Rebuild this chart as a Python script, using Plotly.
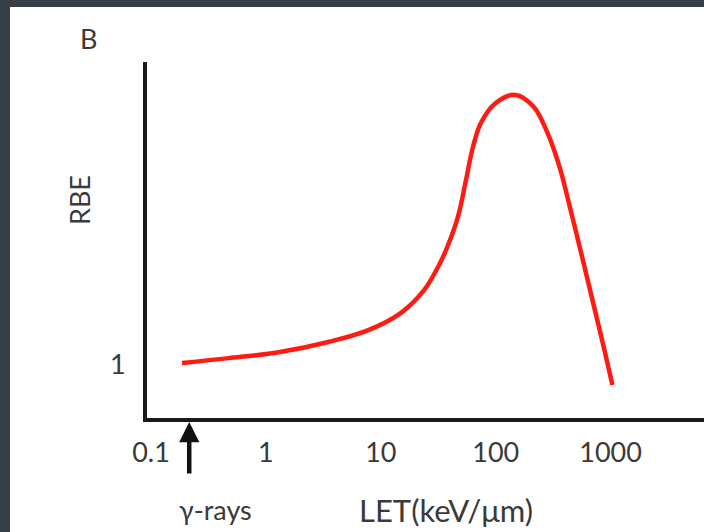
import plotly.graph_objects as go
import math

# Data (LET in keV/um, RBE relative units)
let_values = [0.186, 0.474, 1.29, 3.50, 7.8, 15.0, 23.8, 31.5, 36.9, 46.9, 55.1,
              63.3, 74.3, 100, 149, 214, 283, 360, 448, 547, 695, 884, 1037]
rbe_values = [1.02, 1.11, 1.22, 1.41, 1.63, 1.95, 2.37, 2.80, 3.11, 3.73, 4.41,
              5.02, 5.47, 5.84, 5.99, 5.77, 5.28, 4.65, 3.86, 3.11, 2.19, 1.26, 0.61]
x_tick_vals = [0.1, 1, 10, 100, 1000]
x_tick_text = ["0.1", "1", "10", "100", "1000"]
y_tick_vals = [1]
y_tick_text = ["1"]
gamma_let = 0.215

FONT = "Lato"
TXT = "#3a3a3a"
W, H = 704, 532
L, R, T, B = 147, 0, 62, 114
PW, PH = W - L - R, H - T - B

def px(xp):
    return (xp - L) / PW

def py(yp):
    return (H - B - yp) / PH

fig = go.Figure()
fig.add_trace(go.Scatter(
    x=let_values, y=rbe_values, mode="lines",
    line=dict(color="#ff1a12", width=4.5, shape="spline", smoothing=1.0),
    hoverinfo="skip", showlegend=False,
))

fig.update_layout(
    width=W, height=H,
    margin=dict(l=L, r=R, t=T, b=B),
    paper_bgcolor="white", plot_bgcolor="white",
    font=dict(family=FONT, color=TXT, size=26),
    showlegend=False,
    xaxis=dict(
        type="log", range=[-1.035, 3.813],
        showgrid=False, zeroline=False,
        showline=True, linecolor="#1a1a1a", linewidth=4,
        tickmode="array", tickvals=x_tick_vals, ticktext=x_tick_text,
        ticks="", tickfont=dict(family=FONT, size=27, color=TXT),
        ticklabelstandoff=8,
    ),
    yaxis=dict(
        range=[0, 6.6],
        showgrid=False, zeroline=False,
        showline=True, linecolor="#1a1a1a", linewidth=4,
        tickmode="array", tickvals=y_tick_vals, ticktext=y_tick_text,
        ticks="", tickfont=dict(family=FONT, size=27, color=TXT),
        ticklabelstandoff=12,
    ),
    shapes=[
        dict(type="rect", xref="paper", yref="paper",
             x0=px(0), x1=px(W), y0=py(0), y1=py(7),
             fillcolor="#353f47", line=dict(width=0), layer="below"),
        dict(type="rect", xref="paper", yref="paper",
             x0=px(0), x1=px(10), y0=py(0), y1=py(H),
             fillcolor="#353f47", line=dict(width=0), layer="below"),
    ],
    annotations=[
        dict(text="B", xref="paper", yref="paper", x=px(88), y=py(38),
             xanchor="center", yanchor="middle", showarrow=False,
             font=dict(family=FONT, size=27, color=TXT)),
        dict(text="RBE", xref="paper", yref="paper", x=px(80), y=py(200),
             xanchor="center", yanchor="middle", showarrow=False, textangle=-90,
             font=dict(family=FONT, size=27, color=TXT)),
        dict(text="\u03b3-rays", xref="paper", yref="paper", x=px(215), y=py(509),
             xanchor="center", yanchor="middle", showarrow=False,
             font=dict(family=FONT, size=27, color=TXT)),
        dict(text="LET(keV/\u03bcm)", xref="paper", yref="paper", x=px(446), y=py(510),
             xanchor="center", yanchor="middle", showarrow=False,
             font=dict(family=FONT, size=31, color=TXT)),
        dict(text="", xref="x", yref="paper", x=math.log10(gamma_let), y=py(422),
             ax=0, ay=53, axref="pixel", ayref="pixel",
             showarrow=True, arrowhead=2, arrowsize=0.9, arrowwidth=4.5,
             arrowcolor="#111111"),
    ],
)

fig.write_html("out.html")
